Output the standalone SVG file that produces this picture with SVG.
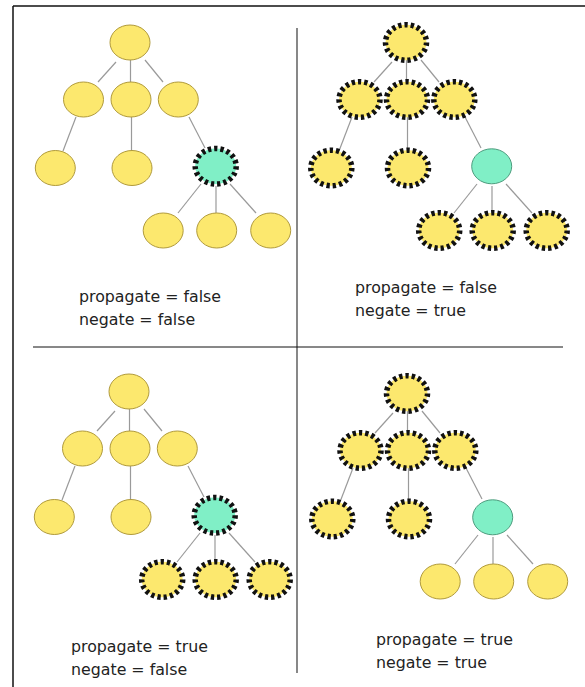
<svg xmlns="http://www.w3.org/2000/svg" width="585" height="687" viewBox="0 0 585 687">
<style>
.n{fill:#FCE86E;stroke:#B09A3C;stroke-width:1}
.nd{fill:#FCE86E;stroke:#111;stroke-width:5.5;stroke-dasharray:3.3 3}
.g{fill:#80EFC6;stroke:#4E9C7E;stroke-width:1}
.gd{fill:#80EFC6;stroke:#111;stroke-width:5.5;stroke-dasharray:3.3 3}
.c{stroke:#9a9a9a;stroke-width:1.2;fill:none}
.t{font-family:"DejaVu Sans",Verdana,sans-serif;font-size:15.8px;fill:#222}
</style>
<rect width="585" height="687" fill="#fff"/>
<g id="frame">
<line x1="13" y1="6" x2="585" y2="6" stroke="#111" stroke-width="1.5"/>
<line x1="13" y1="6" x2="13" y2="687" stroke="#111" stroke-width="1.5"/>
<line x1="297" y1="28" x2="297" y2="673" stroke="#6a6a6a" stroke-width="1.6"/>
<line x1="33" y1="347" x2="563" y2="347" stroke="#111" stroke-width="1"/>
</g>
<defs>
<g id="edges" class="c">
<line x1="116" y1="62" x2="98" y2="82"/>
<line x1="130.5" y1="60" x2="130.5" y2="82"/>
<line x1="145" y1="60" x2="163" y2="82"/>
<line x1="76" y1="117" x2="63" y2="151"/>
<line x1="131.5" y1="117" x2="131.5" y2="151"/>
<line x1="189" y1="117" x2="205" y2="148"/>
<line x1="201" y1="184" x2="178" y2="213"/>
<line x1="216" y1="186" x2="216" y2="213"/>
<line x1="230" y1="184" x2="256" y2="213"/>
</g>
</defs>
<g id="connectors">
<use href="#edges" transform="translate(0,0)"/>
<use href="#edges" transform="translate(276,0)"/>
<use href="#edges" transform="translate(-1,349)"/>
<use href="#edges" transform="translate(277,351)"/>
</g>
<g id="q1" transform="translate(0,0)">
<g id="q1-root"><ellipse class="n" cx="130" cy="42.5" rx="20" ry="17.5"/></g>
<g id="q1-a1"><ellipse class="n" cx="83.5" cy="99.5" rx="20" ry="17.5"/></g>
<g id="q1-a2"><ellipse class="n" cx="131" cy="99.5" rx="20" ry="17.5"/></g>
<g id="q1-a3"><ellipse class="n" cx="178.3" cy="99.5" rx="20" ry="17.5"/></g>
<g id="q1-b1"><ellipse class="n" cx="55.3" cy="168" rx="20" ry="17.5"/></g>
<g id="q1-b2"><ellipse class="n" cx="132" cy="168" rx="20" ry="17.5"/></g>
<g id="q1-g"><ellipse class="gd" cx="215.7" cy="166.3" rx="20.5" ry="17.8"/></g>
<g id="q1-c1"><ellipse class="n" cx="163.2" cy="230.5" rx="20" ry="17.5"/></g>
<g id="q1-c2"><ellipse class="n" cx="216.7" cy="230.5" rx="20" ry="17.5"/></g>
<g id="q1-c3"><ellipse class="n" cx="270.7" cy="230.5" rx="20" ry="17.5"/></g>
</g>
<g id="q2" transform="translate(276,0)">
<g id="q2-root"><ellipse class="nd" cx="130" cy="42.5" rx="20.5" ry="17.8"/></g>
<g id="q2-a1"><ellipse class="nd" cx="83.5" cy="99.5" rx="20.5" ry="17.8"/></g>
<g id="q2-a2"><ellipse class="nd" cx="131" cy="99.5" rx="20.5" ry="17.8"/></g>
<g id="q2-a3"><ellipse class="nd" cx="178.3" cy="99.5" rx="20.5" ry="17.8"/></g>
<g id="q2-b1"><ellipse class="nd" cx="55.3" cy="168" rx="20.5" ry="17.8"/></g>
<g id="q2-b2"><ellipse class="nd" cx="132" cy="168" rx="20.5" ry="17.8"/></g>
<g id="q2-g"><ellipse class="g" cx="215.7" cy="166.3" rx="20" ry="17.5"/></g>
<g id="q2-c1"><ellipse class="nd" cx="163.2" cy="230.5" rx="20.5" ry="17.8"/></g>
<g id="q2-c2"><ellipse class="nd" cx="216.7" cy="230.5" rx="20.5" ry="17.8"/></g>
<g id="q2-c3"><ellipse class="nd" cx="270.7" cy="230.5" rx="20.5" ry="17.8"/></g>
</g>
<g id="q3" transform="translate(-1,349)">
<g id="q3-root"><ellipse class="n" cx="130" cy="42.5" rx="20" ry="17.5"/></g>
<g id="q3-a1"><ellipse class="n" cx="83.5" cy="99.5" rx="20" ry="17.5"/></g>
<g id="q3-a2"><ellipse class="n" cx="131" cy="99.5" rx="20" ry="17.5"/></g>
<g id="q3-a3"><ellipse class="n" cx="178.3" cy="99.5" rx="20" ry="17.5"/></g>
<g id="q3-b1"><ellipse class="n" cx="55.3" cy="168" rx="20" ry="17.5"/></g>
<g id="q3-b2"><ellipse class="n" cx="132" cy="168" rx="20" ry="17.5"/></g>
<g id="q3-g"><ellipse class="gd" cx="215.7" cy="166.3" rx="20.5" ry="17.8"/></g>
<g id="q3-c1"><ellipse class="nd" cx="163.2" cy="230.5" rx="20.5" ry="17.8"/></g>
<g id="q3-c2"><ellipse class="nd" cx="216.7" cy="230.5" rx="20.5" ry="17.8"/></g>
<g id="q3-c3"><ellipse class="nd" cx="270.7" cy="230.5" rx="20.5" ry="17.8"/></g>
</g>
<g id="q4" transform="translate(277,351)">
<g id="q4-root"><ellipse class="nd" cx="130" cy="42.5" rx="20.5" ry="17.8"/></g>
<g id="q4-a1"><ellipse class="nd" cx="83.5" cy="99.5" rx="20.5" ry="17.8"/></g>
<g id="q4-a2"><ellipse class="nd" cx="131" cy="99.5" rx="20.5" ry="17.8"/></g>
<g id="q4-a3"><ellipse class="nd" cx="178.3" cy="99.5" rx="20.5" ry="17.8"/></g>
<g id="q4-b1"><ellipse class="nd" cx="55.3" cy="168" rx="20.5" ry="17.8"/></g>
<g id="q4-b2"><ellipse class="nd" cx="132" cy="168" rx="20.5" ry="17.8"/></g>
<g id="q4-g"><ellipse class="g" cx="215.7" cy="166.3" rx="20" ry="17.5"/></g>
<g id="q4-c1"><ellipse class="n" cx="163.2" cy="230.5" rx="20" ry="17.5"/></g>
<g id="q4-c2"><ellipse class="n" cx="216.7" cy="230.5" rx="20" ry="17.5"/></g>
<g id="q4-c3"><ellipse class="n" cx="270.7" cy="230.5" rx="20" ry="17.5"/></g>
</g>
<g id="labels" class="t">
<text x="79" y="302">propagate = false</text>
<text x="79" y="325">negate = false</text>
<text x="355" y="293">propagate = false</text>
<text x="355" y="316">negate = true</text>
<text x="71" y="652">propagate = true</text>
<text x="71" y="675">negate = false</text>
<text x="376" y="645">propagate = true</text>
<text x="376" y="668">negate = true</text>
</g>
</svg>
